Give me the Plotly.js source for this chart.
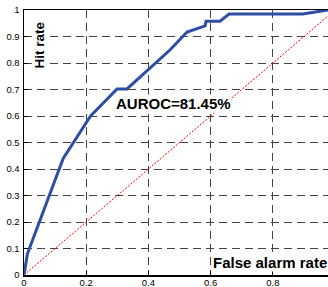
<!DOCTYPE html>
<html><head><meta charset="utf-8">
<script src="https://cdn.plot.ly/plotly-3.0.1.min.js"></script>
<style>html,body{margin:0;padding:0;background:#fff}#c{width:328px;height:287px}</style>
</head><body><div id="c"></div>
<script>
var rocX = [0, 0.011, 0.126, 0.214, 0.299, 0.331, 0.469, 0.524, 0.582, 0.585, 0.630, 0.659, 0.896, 0.977];
var rocY = [0, 0.08, 0.44, 0.60, 0.702, 0.702, 0.849, 0.917, 0.940, 0.958, 0.958, 0.985, 0.985, 1.0];
var diagX = [0, 1];
var diagY = [0, 1];
var xTicks = [0, 0.2, 0.4, 0.6, 0.8];
var xTickText = ['0', '0.2', '0.4', '0.6', '0.8'];
var yTicks = [0, 0.1, 0.2, 0.3, 0.4, 0.5, 0.6, 0.7, 0.8, 0.9, 1];
var yTickText = ['0', '0.1', '0.2', '0.3', '0.4', '0.5', '0.6', '0.7', '0.8', '0.9', '1'];
var aurocText = 'AUROC=81.45%';

var traces = [
  {x: diagX, y: diagY, mode: 'lines', line: {color: '#ff0000', width: 1, dash: '2px,1.5px'}, hoverinfo: 'skip'},
  {x: rocX, y: rocY, mode: 'lines', line: {color: '#2e4ea6', width: 3}, hoverinfo: 'skip'}
];
var ff = 'Liberation Sans, Arial, sans-serif';
var layout = {
  width: 328, height: 287,
  margin: {l: 24, r: 0, t: 10, b: 12},
  paper_bgcolor: '#fff', plot_bgcolor: '#fff',
  showlegend: false,
  font: {family: ff, size: 10, color: '#000'},
  xaxis: {range: [0, 0.977], tickvals: xTicks, ticktext: xTickText, showline: true, linecolor: '#000', linewidth: 1.5,
    mirror: true, ticks: 'inside', ticklen: 4, tickcolor: '#000', showgrid: true, gridcolor: '#444', griddash: '8px,5px',
    gridwidth: 1, zeroline: false, tickfont: {size: 9.5}, ticklabelstandoff: -2},
  yaxis: {range: [0, 1], tickvals: yTicks, ticktext: yTickText, showline: true, linecolor: '#000', linewidth: 1.5,
    ticks: 'inside', ticklen: 4, tickcolor: '#000', showgrid: true, gridcolor: '#444', griddash: '8px,5px',
    gridwidth: 1, zeroline: false, tickfont: {size: 9.5}, ticklabelstandoff: 1},
  annotations: [
    {text: '<b>Hit rate</b>', xref: 'paper', yref: 'paper', x: 0.054, xanchor: 'center', y: 0.868, yanchor: 'middle',
      textangle: -90, showarrow: false, font: {family: ff, size: 13.5, color: '#000'}, bgcolor: '#fff', borderpad: 0},
    {text: '<b>False alarm rate</b>', xref: 'paper', yref: 'paper', x: 1.0, xanchor: 'right', y: 0.047, yanchor: 'middle',
      showarrow: false, font: {family: ff, size: 15, color: '#000'}, bgcolor: '#fff', borderpad: 0},
    {text: '<b>' + aurocText + '</b>', xref: 'paper', yref: 'paper', x: 0.493, xanchor: 'center', y: 0.649, yanchor: 'middle',
      showarrow: false, font: {family: ff, size: 15, color: '#000'}, bgcolor: '#fff', borderpad: 0}
  ]
};
Plotly.newPlot('c', traces, layout, {staticPlot: true, displayModeBar: false});
</script></body></html>
